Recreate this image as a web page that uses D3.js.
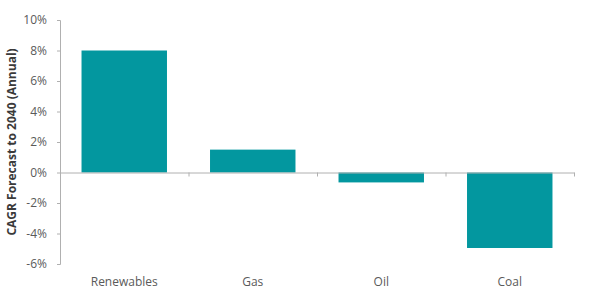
<!DOCTYPE html>
<html>
<head>
<meta charset="utf-8">
<script src="https://cdn.jsdelivr.net/npm/d3@7"></script>
<style>
  body { margin: 0; background: white; }
  svg text { font-family: "Open Sans", sans-serif; }
</style>
</head>
<body>
<div id="chart"></div>
<script>
// Data
var categories = ["Renewables", "Gas", "Oil", "Coal"]
var values = [8.0, 1.5, -0.65, -4.95]
var yTicks = [-6, -4, -2, 0, 2, 4, 6, 8, 10]

var width = 600
var height = 300
var margin = {top: 20, right: 26, bottom: 36, left: 60}
var innerW = width - margin.left - margin.right
var innerH = height - margin.top - margin.bottom

var svg = d3.select("#chart")
  .append("svg")
  .attr("width", width)
  .attr("height", height)

var chart = svg.append("g")
  .attr("transform", "translate(" + margin.left + "," + margin.top + ")")

var x_scale = d3.scaleBand()
  .domain(categories)
  .range([0, innerW])
  .paddingInner(0.335)
  .paddingOuter(0.1675)

// boundaries between categories, for the x tick marks
var x_step = d3.scaleLinear()
  .domain([0, categories.length])
  .range([0, innerW])

var y_scale = d3.scaleLinear()
  .domain([-6, 10])
  .range([innerH, 0])

// Bars
chart.selectAll(".bar")
  .data(values)
  .enter()
  .append("rect")
  .attr("class", "bar")
  .attr("x", function (d, i) { return x_scale(categories[i]) })
  .attr("width", x_scale.bandwidth())
  .attr("y", function (d) { return y_scale(Math.max(0, d)) })
  .attr("height", function (d) { return Math.abs(y_scale(d) - y_scale(0)) })
  .style("fill", "#03979f")

// Y axis
var yAxis = chart.append("g")
  .call(d3.axisLeft(y_scale)
    .tickValues(yTicks)
    .tickSize(3)
    .tickPadding(10)
    .tickFormat(function (d) { return d + "%" }))

yAxis.select(".domain").attr("stroke", "#b0b0b0")
yAxis.selectAll(".tick line").attr("stroke", "#b0b0b0")
yAxis.selectAll(".tick text")
  .style("font-size", "12px")
  .attr("fill", "#5a5a5a")

// X axis at zero
var xAxis = chart.append("g")
  .attr("transform", "translate(0," + y_scale(0) + ")")
  .call(d3.axisBottom(x_step)
    .tickValues(d3.range(1, categories.length + 1))
    .tickSize(4)
    .tickSizeOuter(0)
    .tickFormat(""))

xAxis.select(".domain").attr("stroke", "#b0b0b0")
xAxis.selectAll(".tick line").attr("stroke", "#b0b0b0")

// Category labels
chart.selectAll(".cat")
  .data(categories)
  .enter()
  .append("text")
  .attr("class", "cat")
  .attr("x", function (d) { return x_scale(d) + x_scale.bandwidth() / 2 })
  .attr("y", innerH + 22)
  .style("text-anchor", "middle")
  .style("font-size", "12px")
  .attr("fill", "#5a5a5a")
  .text(function (d) { return d })

// Y label
svg.append("text")
  .attr("transform", "rotate(-90)")
  .attr("x", -(margin.top + innerH / 2))
  .attr("y", 16)
  .style("text-anchor", "middle")
  .style("font-size", "12px")
  .style("font-weight", "bold")
  .attr("fill", "#3a3a3a")
  .text("CAGR Forecast to 2040 (Annual)")
</script>
</body>
</html>
